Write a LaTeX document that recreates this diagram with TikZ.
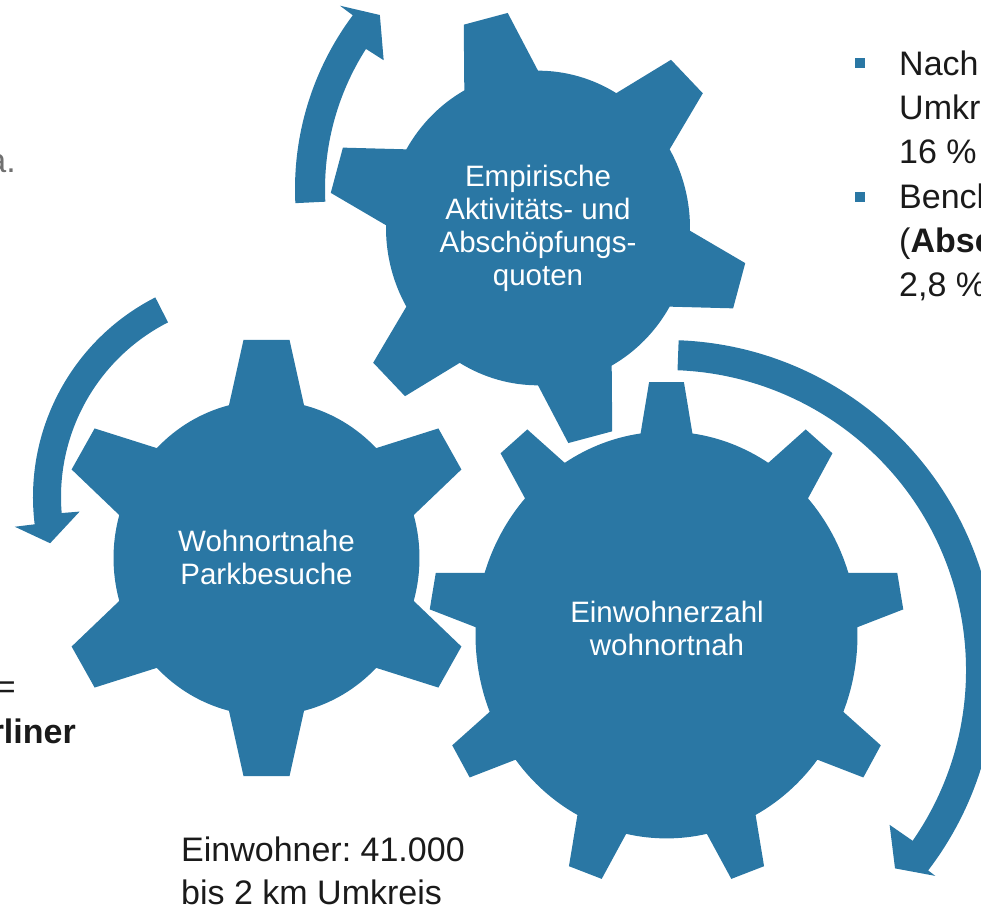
\documentclass[tikz,border=0pt]{standalone}
\usepackage{fontspec}
\setmainfont{Liberation Sans}
\usepackage{tikz}
\frenchspacing
\definecolor{GearBlue}{HTML}{2A77A4}
\definecolor{NoteInk}{HTML}{1A1A1A}
\definecolor{NoteGray}{HTML}{707070}
% #1 teeth, #2 angle of first tooth, #3 root radius, #4 tip radius,
% #5 half angle at the root, #6 half angle at the tip
\newcommand{\GearOutline}[6]{%
  ({#2-#5}:#3pt)
  \foreach \k [evaluate=\k as \a using #2+(\k-1)*360/#1] in {1,...,#1}{
    -- ({\a-#6}:#4pt) -- ({\a+#6}:#4pt) -- ({\a+#5}:#3pt)
    arc[start angle=\a+#5, end angle=\a+360/#1-#5, radius=#3pt]
  } -- cycle}
% #1 start angle, #2 inner radius, #3 outer radius, #4/#5 outer barb,
% #6/#7 tip, #8/#9 inner barb (angle/radius)
\newcommand{\ArcArrow}[9]{%
  (#1:#3pt) arc[start angle=#1, end angle=#4, radius=#3pt]
  -- (#4:#5pt) -- (#6:#7pt) -- (#8:#9pt) -- (#8:#2pt)
  arc[start angle=#8, end angle=#1, radius=#2pt] -- cycle}
\tikzset{
  figure/.style={x=1pt,y=1pt,text=NoteInk},
  gear/.style={fill=GearBlue},
  gear label/.style={text=white,align=center,inner sep=0pt,
    font=\fontsize{29.5}{33}\selectfont},
  note/.style={align=left,inner sep=0pt,font=\fontsize{34}{44}\selectfont},
  bullet/.style={fill=GearBlue,minimum size=10pt,inner sep=0pt},
}

\begin{document}
\begin{tikzpicture}[figure]
  \useasboundingbox (0,0) rectangle (981,911);
  \clip (0,0) rectangle (981,911);

  \begin{scope}[shift={(538,683)},yscale=1.035]
    \fill[gear] \GearOutline{6}{104.5}{152}{210}{14.5}{6.2};
  \end{scope}
  \begin{scope}[shift={(266.5,353)},yscale=1.03]
    \fill[gear] \GearOutline{6}{90}{153}{213}{14.2}{6.2};
  \end{scope}
  \begin{scope}[shift={(666.5,276)},yscale=1.065]
    \fill[gear] \GearOutline{9}{90}{191}{238}{7.8}{4.2};
  \end{scope}

  \begin{scope}[shift={(257,414)}]
    \fill[gear] \ArcArrow{117}{196}{224}{187}{244}{192.6}{212}{184.7}{178};
  \end{scope}
  \begin{scope}[shift={(585,722)}]
    \fill[gear] \ArcArrow{182.8}{260}{290}{143.2}{306}{139.7}{269}{147.4}{239};
  \end{scope}
  \begin{scope}[shift={(666,241)}]
    \fill[gear] \ArcArrow{87.8}{300}{330}{-37.4}{339}{-40.9}{303}{-34.7}{272};
  \end{scope}

  \node[gear label] (Q) at (538,683) {Empirische\\Aktivitäts- und\\Abschöpfungs-\\quoten};
  \node[gear label] (V) at (266.5,354) {Wohnortnahe\\Parkbesuche};
  \node[gear label] (R) at (667,283) {Einwohnerzahl\\wohnortnah};

  \node[note,font=\fontsize{34}{43}\selectfont,anchor=north west] (N1) at (181,74)
    {Einwohner: 41.000\\bis 2 km Umkreis};
  \node[note,anchor=north west] (N2) at (899,860) {Nach\\Umkr\\16 \%};
  \node[note,anchor=north west] (N3) at (899,727) {Bench\\(\textbf{Absc}\\2,8 \%};
  \node[bullet] (B1) at (860,848) {};
  \node[bullet] (B2) at (860,714) {};

  \node[note,text=NoteGray,anchor=base east] (La) at (16,738) {a.};
  \node[note,anchor=base east] (Lb) at (16,213) {=};
  \node[note,anchor=base east] (Lc) at (76,168) {\textbf{rliner}};
\end{tikzpicture}
\end{document}
